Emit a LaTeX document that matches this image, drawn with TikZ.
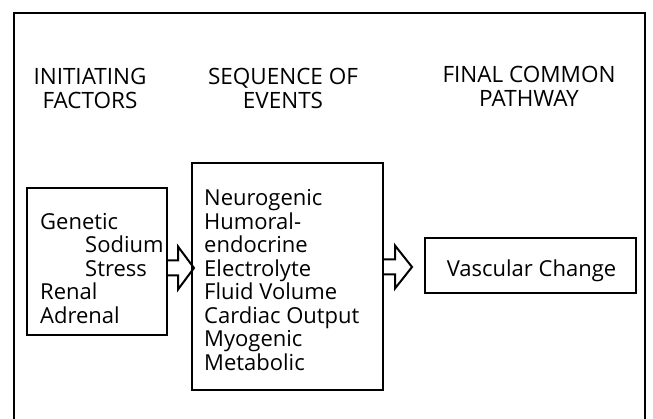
\documentclass[tikz,border=0pt]{standalone}
\usepackage{fontspec}
\setmainfont{Open Sans}
\usepackage{tikz}
\usetikzlibrary{calc}
\def\fatarrow(#1)[#2][#3]{\draw[line width=2pt, line join=miter] (#1) ++(0,-7.5) -- ++(#2-#3,0) -- ++(0,-14) -- ++(#3,21.5) -- ++(-#3,21.5) -- ++(0,-14) -- ++(#3-#2,0);}

\begin{document}
\begin{tikzpicture}[x=1pt, y=-1pt, font=\fontsize{22}{23.5}\selectfont]
			%%%%% START %%%%%
			
			\useasboundingbox (0, 0) rectangle (653, 419);
			\draw[line width=1.4pt] (14, 419) -- (14, 13) -- (645, 13) -- (645, 419);
			
			\node[align=center, inner sep=0, font=\fontsize{22.5}{24}\selectfont] (initiating) at (90, 88) {INITIATING\\FACTORS};
			\node[align=center, inner sep=0, font=\fontsize{22.5}{24}\selectfont] (sequence) at (283, 88) {SEQUENCE OF\\EVENTS};
			\node[align=center, inner sep=0, font=\fontsize{22.5}{24}\selectfont] (final) at (529, 86) {FINAL COMMON\\PATHWAY};
			
			\node[draw, line width=2pt, minimum width=140pt, minimum height=147pt] (factors) at (97, 261.5) {};
			\node[draw, line width=2pt, minimum width=191pt, minimum height=227pt] (events) at (287.5, 276.5) {};
			\node[draw, line width=2pt, minimum width=211pt, minimum height=55pt] (change) at (530.5, 265.5) {};
			
			\node[anchor=north west, align=left, inner sep=0] (factorlist) at (40, 212.7)
				{Genetic\\\hspace*{45pt}Sodium\\\hspace*{45pt}Stress\\Renal\\Adrenal};
			\node[anchor=north west, align=left, inner sep=0] (eventlist) at (204, 189.2)
				{Neurogenic\\Humoral-\\endocrine\\Electrolyte\\Fluid Volume\\Cardiac Output\\Myogenic\\Metabolic};
			\node[anchor=base, inner sep=0] (changetext) at (531.5, 277) {Vascular Change};
			
			\fatarrow(factors.east |- 0, 268)[26][16]
			\fatarrow(events.east |- 0, 267)[28][17]
			
			%%%%% END %%%%%
		\end{tikzpicture}
\end{document}
